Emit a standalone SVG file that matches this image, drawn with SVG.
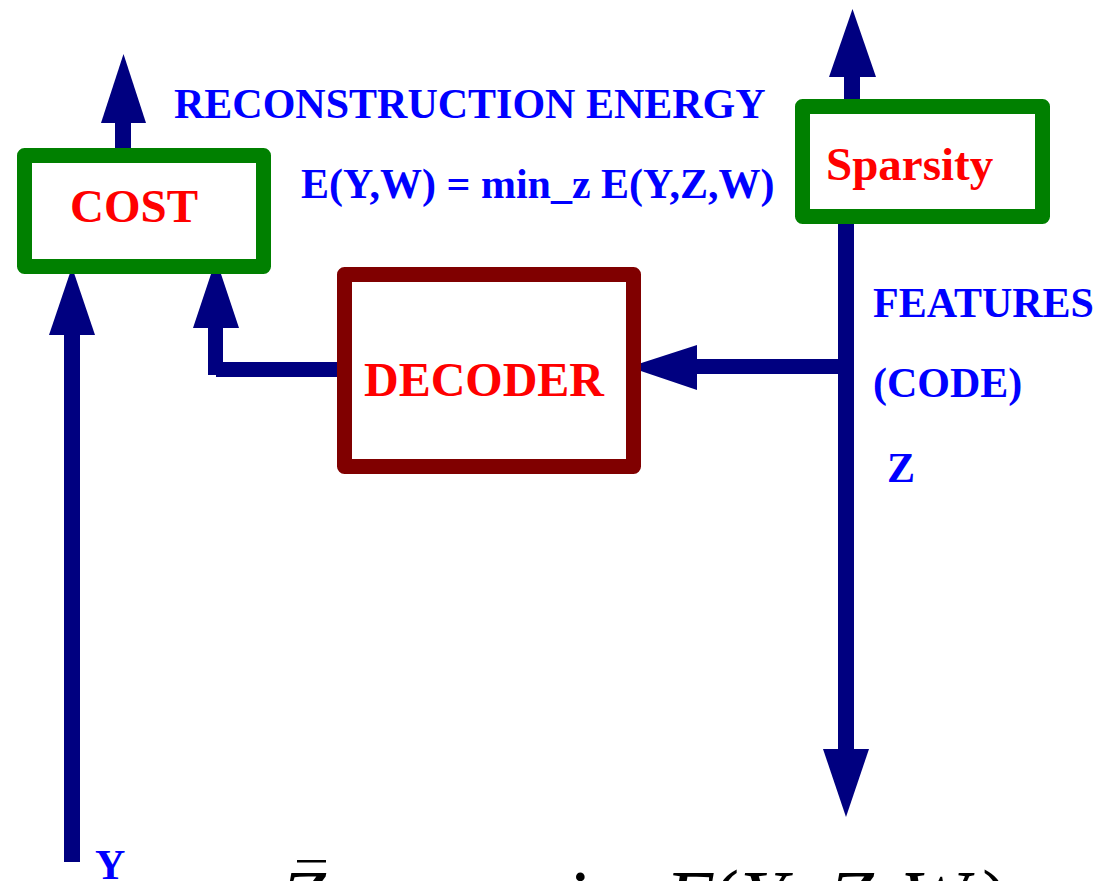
<svg xmlns="http://www.w3.org/2000/svg" width="1103" height="881" viewBox="0 0 1103 881">
  <style>
    .box { fill: #ffffff; stroke-width: 15; stroke-linejoin: round; }
    .green { stroke: #008000; }
    .maroon { stroke: #800000; }
    .node-label { font-family: "Liberation Serif", "Times New Roman", serif; font-weight: bold; fill: #ff0000; }
    .label { font-family: "Liberation Serif", "Times New Roman", serif; font-weight: bold; fill: #0000ff; font-size: 42px; }
    .arrow { fill: #000080; stroke: none; }
    .math { font-family: "Liberation Serif", "Times New Roman", serif; font-size: 82px; fill: #000000; }
  </style>
  <rect width="1103" height="881" fill="#ffffff"/>

  <g id="connectors">
    <!-- COST output arrow (up) -->
    <rect class="arrow" x="115" y="122" width="16" height="27"/>
    <polygon class="arrow" points="101,123 146,123 123.5,54"/>
    <!-- Sparsity output arrow (up) -->
    <rect class="arrow" x="844" y="76" width="16" height="24"/>
    <polygon class="arrow" points="829,77 876,77 852.5,9"/>
    <!-- Y input arrow to COST -->
    <rect class="arrow" x="64" y="334" width="16" height="528"/>
    <polygon class="arrow" points="49,335 95,335 72,267"/>
    <!-- DECODER to COST -->
    <rect class="arrow" x="216" y="362" width="122" height="15"/>
    <rect class="arrow" x="208" y="326" width="15" height="49"/>
    <polygon class="arrow" points="193,328 239,328 216,259"/>
    <!-- Z vertical line and down arrow -->
    <rect class="arrow" x="838" y="223" width="16" height="527"/>
    <polygon class="arrow" points="823,749 869,749 846,817"/>
    <!-- Z to DECODER -->
    <rect class="arrow" x="696" y="359" width="143" height="15"/>
    <polygon class="arrow" points="697,345 697,390 629,367"/>
  </g>

  <g id="node-cost">
    <rect class="box green" x="24.5" y="155.5" width="239" height="111"/>
    <text class="node-label" x="70" y="222" font-size="47">COST</text>
  </g>

  <g id="node-sparsity">
    <rect class="box green" x="802.5" y="106.5" width="240" height="110"/>
    <text class="node-label" x="826" y="180" font-size="47">Sparsity</text>
  </g>

  <g id="node-decoder">
    <rect class="box maroon" x="344.5" y="274.5" width="289" height="192"/>
    <text class="node-label" x="364" y="396" font-size="48">DECODER</text>
  </g>

  <g id="labels">
    <text class="label" x="174" y="118">RECONSTRUCTION ENERGY</text>
    <text class="label" x="301" y="198">E(Y,W) = min_z E(Y,Z,W)</text>
    <text class="label" x="873" y="317">FEATURES</text>
    <text class="label" x="873" y="397">(CODE)</text>
    <text class="label" x="887" y="482">Z</text>
    <text class="label" x="95" y="879" font-size="56">Y</text>
  </g>

  <g id="formula">
    <text class="math" font-style="italic" x="280" y="927">Z</text>
    <rect x="297" y="860" width="29" height="2.5" fill="#000000"/>
    <text class="math" x="382" y="927">arg min</text>
    <text class="math" y="927"><tspan x="665" font-style="italic">E</tspan><tspan x="712">(</tspan><tspan x="740" font-style="italic">Y</tspan><tspan x="795">,</tspan><tspan x="828" font-style="italic">Z</tspan><tspan x="877">,</tspan><tspan x="900" font-style="italic">W</tspan><tspan x="982">)</tspan></text>
  </g>
</svg>
